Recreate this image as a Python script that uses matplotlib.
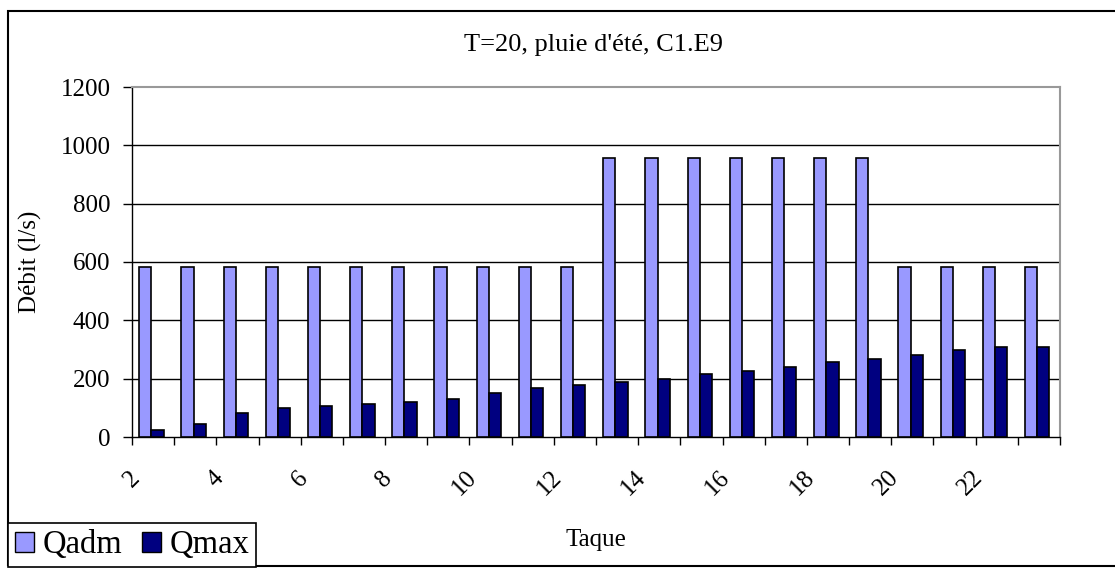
import numpy as np
import matplotlib
matplotlib.use("Agg")
import matplotlib.pyplot as plt
import matplotlib.transforms as mtransforms
from matplotlib.patches import Rectangle, Patch

plt.rcParams['font.family'] = ['Liberation Serif', 'DejaVu Serif']

# données
taques = list(range(2, 24))
qadm = [582, 582, 582, 582, 582, 582, 582, 582, 582, 582, 582,
        955, 955, 955, 955, 955, 955, 955,
        582, 582, 582, 582]
qmax = [24, 46, 81, 98, 108, 114, 121, 131, 150, 167, 177,
        188, 200, 217, 228, 240, 257, 268, 280, 297, 308, 308]
yticks = [0, 200, 400, 600, 800, 1000, 1200]

W, H = 1115, 568
fig = plt.figure(figsize=(W / 100, H / 100), dpi=100)
ax = fig.add_axes([132 / W, 1 - 437 / H, (1060 - 132) / W, (437 - 87) / H])

x = np.arange(len(taques))
bw = 0.29
c = 0.46
ax.bar(x + c - bw / 2, qadm, bw, color='#9999FF', edgecolor='black', linewidth=1.2, zorder=3)
ax.bar(x + c + bw / 2, qmax, bw, color='#000080', edgecolor='black', linewidth=1.2, zorder=3)

ax.set_xlim(0, len(taques))
ax.set_ylim(0, 1200)
ax.set_yticks(yticks)
ax.set_yticklabels([str(v) for v in yticks])
for v in yticks[1:-1]:
    ax.axhline(v, color='black', lw=1, zorder=1)

ax.set_xticks(np.arange(len(taques) + 1))
labels = [str(t) if (t % 2 == 0 and t < 23) else '' for t in taques] + ['']
ax.set_xticklabels(labels, rotation=45, ha='right', va='center', rotation_mode='anchor')
ax.tick_params(axis='x', direction='out', length=6, width=1, pad=21, labelsize=18)
ax.tick_params(axis='y', direction='out', length=6.5, width=1, pad=9, labelsize=18)
shift = mtransforms.ScaledTranslation(4 / 100, 0, fig.dpi_scale_trans)
for lab in ax.get_xticklabels():
    lab.set_transform(lab.get_transform() + shift)

for s in ['top', 'right']:
    ax.spines[s].set_color('#999999')
    ax.spines[s].set_linewidth(1.5)
for s in ['left', 'bottom']:
    ax.spines[s].set_color('black')
    ax.spines[s].set_linewidth(1)

fig.text(594 / W, 1 - 45 / H, "T=20, pluie d'été, C1.E9", ha='center', va='center', fontsize=19)
fig.text(30 / W, 1 - 262 / H, "Débit (l/s)", rotation=90, ha='center', va='center', fontsize=18)
fig.text(596 / W, 1 - 540 / H, "Taque", ha='center', va='center', fontsize=18)

# cadre du graphique
fig.patches.append(Rectangle((8 / W, 2 / H), 1.2, (566 - 11) / H, transform=fig.transFigure,
                             fill=False, edgecolor='black', linewidth=1.5))

handles = [Patch(facecolor='#9999FF', edgecolor='black', label='Qadm'),
           Patch(facecolor='#000080', edgecolor='black', label='Qmax')]
leg = fig.legend(handles=handles, loc='lower left', bbox_to_anchor=(8 / W, 1 / H), ncol=2,
                 fontsize=23.5, frameon=True, fancybox=False, edgecolor='black', framealpha=1,
                 handlelength=0.6, handleheight=0.6, handletextpad=0.25, columnspacing=0.6,
                 borderpad=0.2, borderaxespad=0)
leg.get_frame().set_linewidth(1.2)

fig.savefig('out.png', dpi=100)
